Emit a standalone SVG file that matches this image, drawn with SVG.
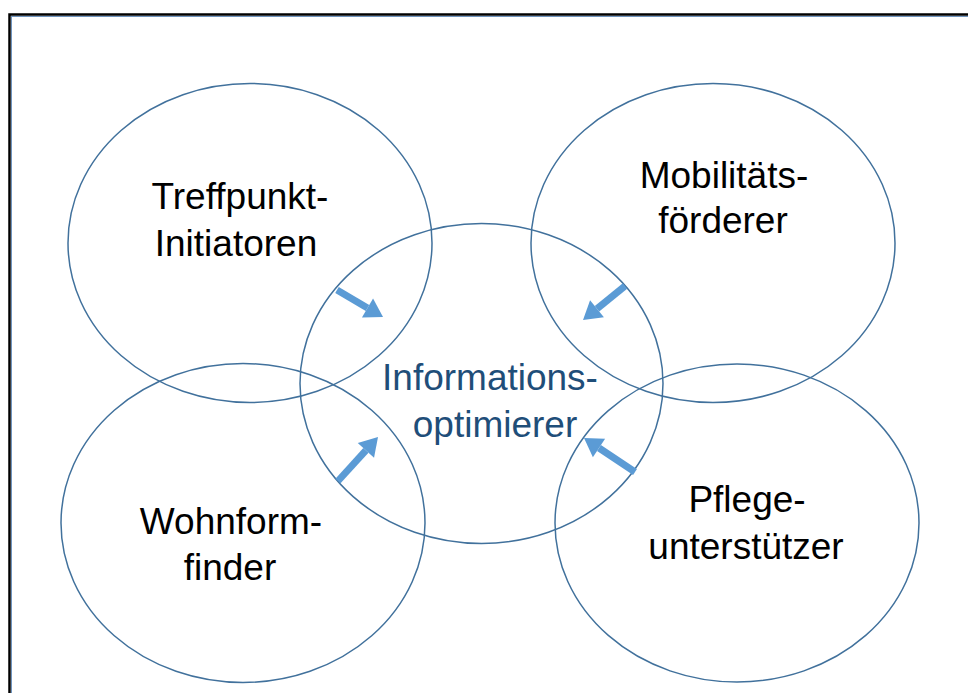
<svg xmlns="http://www.w3.org/2000/svg" width="968" height="693" viewBox="0 0 968 693">
<style>
.c{fill:none;stroke:#41719C;stroke-width:1.5}
.t{font-family:"Liberation Sans",Arial,sans-serif;font-size:37px;fill:#000;text-anchor:middle}
.tb{fill:#1F4E79}
.a{stroke:#5B9BD5;stroke-width:7;fill:none;marker-end:url(#ah)}
</style>
<defs>
<marker id="ah" markerUnits="userSpaceOnUse" markerWidth="18" markerHeight="22" refX="0" refY="11" orient="auto" overflow="visible">
<path d="M0,0 L18,11 L0,22 z" fill="#5B9BD5"/>
</marker>
</defs>
<rect x="0" y="0" width="968" height="693" fill="#fff"/>
<rect x="9.5" y="14.5" width="975" height="700" fill="none" stroke="#000" stroke-width="2.5"/>
<rect x="11.5" y="16.5" width="975" height="700" fill="none" stroke="#6F95C0" stroke-width="1"/>
<g id="n-treffpunkt">
<ellipse class="c" cx="250" cy="243" rx="182" ry="159.5"/>
<text class="t" x="240" y="209">Treffpunkt-</text>
<text class="t" x="236" y="256">Initiatoren</text>
</g>
<g id="n-mobilitaet">
<ellipse class="c" cx="713" cy="243" rx="182" ry="159.5"/>
<text class="t" x="724" y="188">Mobilitäts-</text>
<text class="t" x="723" y="233">förderer</text>
</g>
<g id="n-wohnform">
<ellipse class="c" cx="243" cy="523" rx="182" ry="159.5"/>
<text class="t" x="231" y="534">Wohnform-</text>
<text class="t" x="230" y="580">finder</text>
</g>
<g id="n-pflege">
<ellipse class="c" cx="737" cy="523" rx="182" ry="159"/>
<text class="t" x="747" y="512">Pflege-</text>
<text class="t" x="746" y="559">unterstützer</text>
</g>
<g id="n-info">
<ellipse class="c" cx="481.5" cy="383.5" rx="181.5" ry="160"/>
<text class="t tb" x="490" y="390">Informations-</text>
<text class="t tb" x="495" y="437">optimierer</text>
</g>
<g id="connectors">
<path class="a" d="M337,290 L367.5,307.9"/>
<path class="a" d="M625,286 L597,308.7"/>
<path class="a" d="M338,481 L365.9,450.3"/>
<path class="a" d="M635,472 L599,448"/>
</g>
</svg>
